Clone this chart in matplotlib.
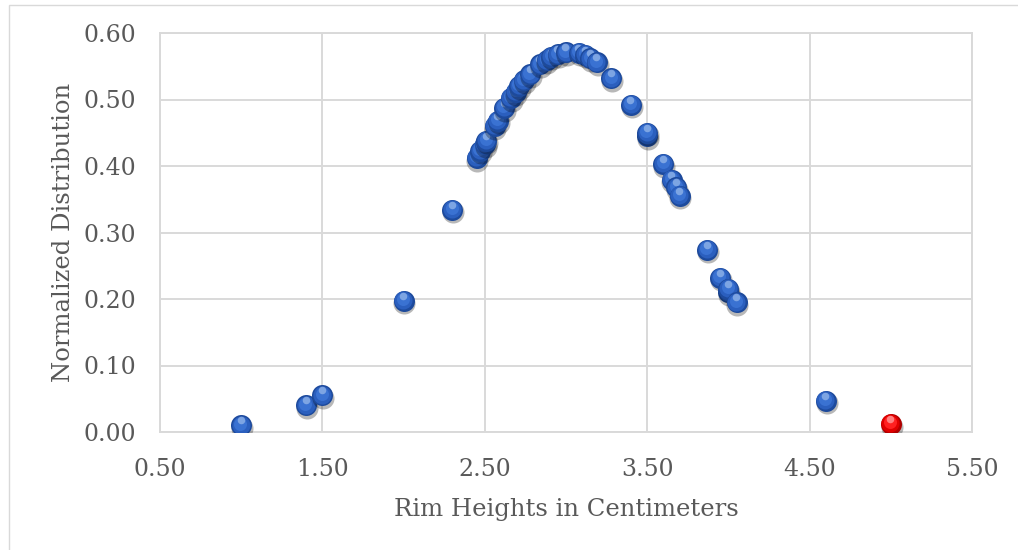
import matplotlib
matplotlib.use("Agg")
import matplotlib.pyplot as plt
from matplotlib.transforms import ScaledTranslation
from matplotlib.patches import Rectangle

# Rim heights (cm) and their normalized distribution values
rim_heights = [1.00, 1.40, 1.50, 2.00, 2.30, 2.45, 2.47, 2.50, 2.51, 2.56,
               2.58, 2.62, 2.66, 2.69, 2.71, 2.74, 2.78, 2.84, 2.88, 2.91,
               2.95, 3.00, 3.08, 3.12, 3.15, 3.19, 3.28, 3.40, 3.50, 3.50,
               3.60, 3.65, 3.68, 3.70, 3.87, 3.95, 4.00, 4.00, 4.05, 4.60]
distribution = [0.010, 0.040, 0.055, 0.197, 0.334, 0.412, 0.423, 0.433, 0.438, 0.460,
                0.468, 0.487, 0.502, 0.511, 0.520, 0.529, 0.538, 0.553, 0.559, 0.564,
                0.568, 0.571, 0.570, 0.567, 0.562, 0.556, 0.532, 0.492, 0.445, 0.450,
                0.403, 0.379, 0.368, 0.355, 0.274, 0.232, 0.210, 0.215, 0.195, 0.047]

# Highlighted measurement
outlier_height = [5.00]
outlier_value = [0.012]

x_ticks = [0.5, 1.5, 2.5, 3.5, 4.5, 5.5]
x_tick_labels = ["0.50", "1.50", "2.50", "3.50", "4.50", "5.50"]
y_ticks = [0.0, 0.1, 0.2, 0.3, 0.4, 0.5, 0.6]
y_tick_labels = ["0.00", "0.10", "0.20", "0.30", "0.40", "0.50", "0.60"]

plt.rcParams["font.family"] = ["DejaVu Serif"]
TEXT = "#595959"
GRID = "#d9d9d9"

fig = plt.figure(figsize=(10.18, 5.5), dpi=100)
ax = fig.add_axes([160 / 1018, 1 - 432 / 550, 812 / 1018, 399 / 550])

# thin frame around the chart area
fig.patches.append(Rectangle((9 / 1018, -0.1), 1.2, (545 + 55) / 550,
                             transform=fig.transFigure, fill=False,
                             edgecolor=GRID, linewidth=1.0))

ax.set_xlim(0.5, 5.5)
ax.set_ylim(0.0, 0.6)
ax.set_xticks(x_ticks)
ax.set_xticklabels(x_tick_labels)
ax.set_yticks(y_ticks)
ax.set_yticklabels(y_tick_labels)
ax.grid(True, color=GRID, linewidth=1.4)
ax.set_axisbelow(True)
for sp in ax.spines.values():
    sp.set_color(GRID)
    sp.set_linewidth(1.4)
ax.tick_params(length=0, labelsize=17, labelcolor=TEXT)
ax.tick_params(axis="x", pad=19)
ax.tick_params(axis="y", pad=17)
ax.set_xlabel("Rim Heights in Centimeters", fontsize=17.5, color=TEXT, labelpad=12)
ax.set_ylabel("Normalized Distribution", fontsize=17.5, color=TEXT, labelpad=6)


def px(dx, dy):
    return ax.transData + ScaledTranslation(dx / 100, dy / 100, fig.dpi_scale_trans)


def ball(x, y, shades, z):
    d = 21.0  # diameter in pixels
    s = lambda k: (k * d * 0.72) ** 2
    ax.scatter([x], [y], s=s(1.05), color="#000000", alpha=0.28, linewidths=0,
               transform=px(0.8, -2.5), zorder=z)
    ax.scatter([x], [y], s=s(1.0), color=shades[0], linewidths=0,
               transform=px(0, 0), zorder=z + 0.1)
    ax.scatter([x], [y], s=s(0.86), color=shades[1], linewidths=0,
               transform=px(-0.4, 0.7), zorder=z + 0.2)
    ax.scatter([x], [y], s=s(0.62), color=shades[2], linewidths=0,
               transform=px(-0.8, 1.7), zorder=z + 0.3)
    ax.scatter([x], [y], s=s(0.36), color=shades[3], alpha=0.8, linewidths=0,
               transform=px(-0.6, 5.2), zorder=z + 0.4)


blue = ["#1d4a9c", "#2b5fbe", "#3a72d2", "#8fb2e8"]
red = ["#b00000", "#e00000", "#ff2020", "#ff9a9a"]

z = 3
for x, y in zip(rim_heights, distribution):
    ball(x, y, blue, z)
    z += 1
for x, y in zip(outlier_height, outlier_value):
    ball(x, y, red, z)
    z += 1

fig.savefig("out.png", dpi=100)
